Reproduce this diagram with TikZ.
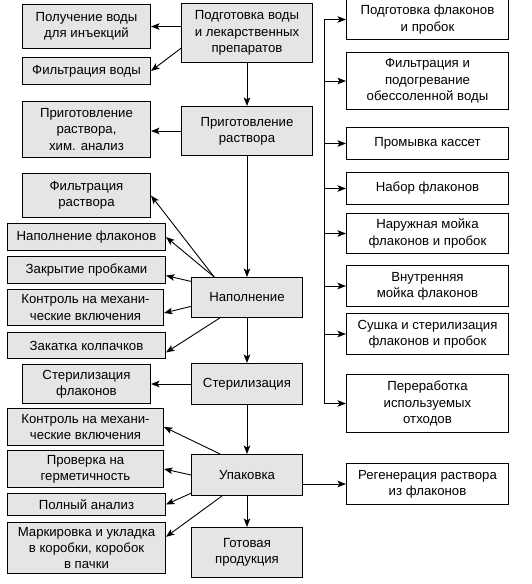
\documentclass[tikz,border=0pt]{standalone}
\usepackage{fontspec}
\setmainfont{Liberation Sans}
\usepackage{tikz}
\usetikzlibrary{arrows.meta}
\usetikzlibrary{positioning}
\tikzset{stage box/.style={draw=black, line width=1pt, rectangle, anchor=north west, align=center, inner sep=0.5pt, font=\fontsize{13.2}{16.3}\selectfont},
  main stage/.style={stage box, fill=black!10},
  side stage/.style={stage box, fill=white},
  flow/.style={line width=0.9pt, -{Stealth[length=8.5pt, width=6.5pt, inset=2pt]}}}

\begin{document}
\begin{tikzpicture}[x=1pt, y=-1pt]
\useasboundingbox (0,0) rectangle (531,584);
% central line
\node[main stage, minimum width=131pt, minimum height=59pt] (prepwater) at (181,3) {Подготовка воды\\и лекарственных\\препаратов};
\node[main stage, minimum width=131pt, minimum height=49pt] (solprep) at (181,106) {Приготовление\\раствора};
\node[main stage, minimum width=111pt, minimum height=40pt] (filling) at (191,277) {Наполнение};
\node[main stage, minimum width=111pt, minimum height=41pt] (steril) at (191,363) {Стерилизация};
\node[main stage, minimum width=111pt, minimum height=41pt] (packing) at (191,454) {Упаковка};
\node[main stage, minimum width=111pt, minimum height=50pt] (product) at (191,527) {Готовая\\продукция};
% left column
\node[main stage, minimum width=128pt, minimum height=44pt] (inject) at (22,4) {Получение воды\\для инъекций};
\node[main stage, minimum width=128pt, minimum height=27pt] (filtwater) at (22,57) {Фильтрация воды};
\node[main stage, minimum width=128pt, minimum height=56pt] (chem) at (22,101) {Приготовление\\раствора,\\хим. анализ};
\node[main stage, minimum width=128pt, minimum height=44pt] (filtsol) at (22,173) {Фильтрация\\раствора};
\node[main stage, minimum width=158pt, minimum height=27pt] (fillvial) at (7,223) {Наполнение флаконов};
\node[main stage, minimum width=158pt, minimum height=27pt] (stopper) at (7,256) {Закрытие пробками};
\node[main stage, minimum width=156pt, minimum height=36pt] (control) at (7,289) {Контроль на механи-\\ческие включения};
\node[main stage, minimum width=158pt, minimum height=26pt] (capping) at (7,332) {Закатка колпачков};
\node[main stage, minimum width=128pt, minimum height=39pt] (sterilvial) at (22,364) {Стерилизация\\флаконов};
\node[main stage, minimum width=156pt, minimum height=37pt] (recontrol) at (7,408) {Контроль на механи-\\ческие включения};
\node[main stage, minimum width=156pt, minimum height=37pt] (leak) at (7,450) {Проверка на\\герметичность};
\node[main stage, minimum width=158pt, minimum height=22pt] (analysis) at (7,493) {Полный анализ};
\node[main stage, minimum width=158pt, minimum height=51pt] (labeling) at (7,522) {Маркировка и укладка\\в коробки, коробок\\в пачки};
% right column
\node[side stage, minimum width=162pt, minimum height=40pt] (prepvial) at (346,-1) {Подготовка флаконов\\и пробок};
\node[side stage, minimum width=162pt, minimum height=57pt] (filtdemin) at (346,52) {Фильтрация и\\подогревание\\обессоленной воды};
\node[side stage, minimum width=162pt, minimum height=32pt] (wash) at (346,127) {Промывка кассет};
\node[side stage, minimum width=162pt, minimum height=32pt] (setvial) at (346,172) {Набор флаконов};
\node[side stage, minimum width=162pt, minimum height=40pt] (outerwash) at (346,213) {Наружная мойка\\флаконов и пробок};
\node[side stage, minimum width=162pt, minimum height=41pt] (innerwash) at (346,265) {Внутренняя\\мойка флаконов};
\node[side stage, minimum width=162pt, minimum height=41pt] (drying) at (346,313) {Сушка и стерилизация\\флаконов и пробок};
\node[side stage, minimum width=162pt, minimum height=58pt] (recycling) at (346,374) {Переработка\\используемых\\отходов};
\node[side stage, minimum width=162pt, minimum height=41pt] (regen) at (346,463) {Регенерация раствора\\из флаконов};
\coordinate (spine) at (324,0);

% main flow
\draw[flow] (prepwater) -- (solprep);
\draw[flow] (solprep) -- (filling);
\draw[flow] (filling) -- (steril);
\draw[flow] (steril) -- (packing);
\draw[flow] (packing) -- (product);

% side branches
\draw[flow] (prepwater.west |- inject.east) -- (inject.east);
\draw[flow] (prepwater.193) -- (filtwater.east);
\draw[flow] (solprep.west) -- (solprep.west -| chem.east);
\draw[flow] (filling.148) -- (filtsol.east);
\draw[flow] (filling.148) -- (fillvial.east);
\draw[flow] (filling.164) -- (stopper.-4);
\draw[flow] (filling.189) -- (control.-4);
\draw[flow] (filling.217) -- (capping.-5);
\draw[flow] (steril.west) -- (sterilvial.east);
\draw[flow] (packing.142) -- (recontrol.east);
\draw[flow] (packing.west) -- (leak.east);
\draw[flow] (packing.198) -- (analysis.east);
\draw[flow] (packing.220) -- (labeling.8);
\draw[flow] (packing.east |- regen.west) -- (regen.west);

% vial line
\draw[line width=0.9pt] (spine |- prepvial.west) -- (spine |- recycling.west);
\foreach \n in {prepvial,filtdemin,wash,setvial,outerwash,innerwash,drying,recycling}
  \draw[flow] (spine |- \n.west) -- (\n.west);
\end{tikzpicture}
\end{document}
